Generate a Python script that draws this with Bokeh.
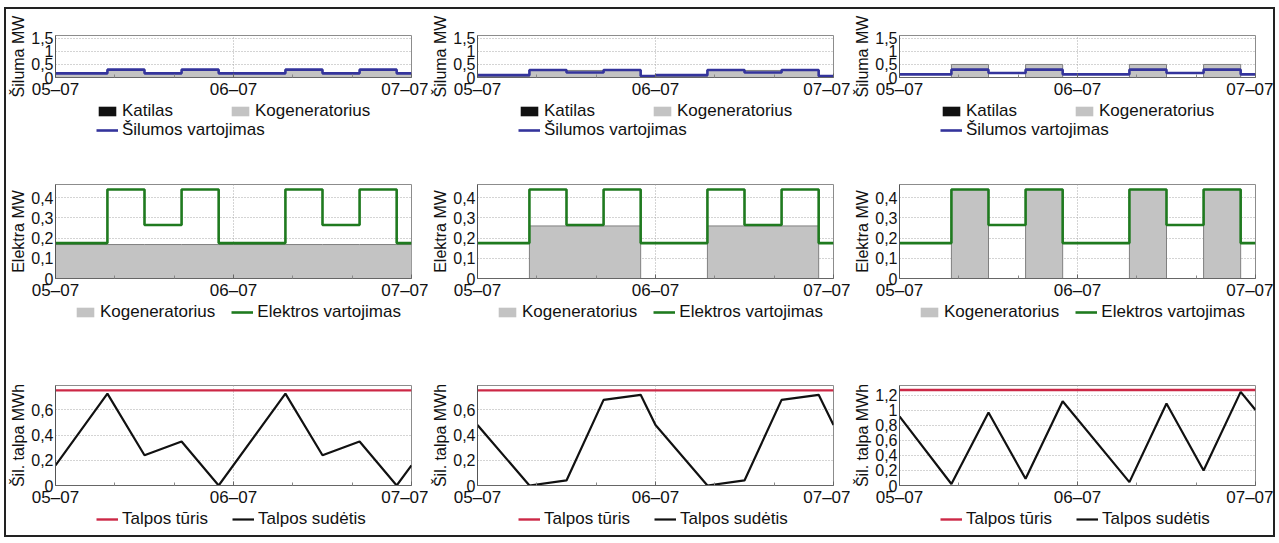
import numpy as np
from bokeh.plotting import figure
from bokeh.models import (Legend, LegendItem, FixedTicker, Range1d,
                          CustomJSTickFormatter)
from bokeh.layouts import row, column
from bokeh.embed import file_html
from bokeh.resources import INLINE

FONT = "Liberation Sans"

# ---------------- data ----------------
# time in hours from 05-07 00:00
hours = [0, 7, 12, 17, 22, 24, 31, 36, 41, 46, 48]
x_ticks = [0, 24, 48]
x_minor_ticks = [8, 16, 32, 40]
x_tick_labels = ["05–07", "06–07", "07–07"]

# row 1: heat, MW (three scenarios a, b, c)
heat_demand_a = [0.16, 0.30, 0.16, 0.30, 0.16, 0.16, 0.30, 0.16, 0.30, 0.16, 0.16]
heat_kog_a    = [0.15, 0.27, 0.15, 0.25, 0.15, 0.15, 0.27, 0.15, 0.25, 0.15, 0.15]
heat_kat_a    = [0.00, 0.00, 0.00, 0.03, 0.00, 0.00, 0.00, 0.00, 0.03, 0.00, 0.00]
heat_demand_b = [0.09, 0.29, 0.19, 0.29, 0.06, 0.09, 0.29, 0.19, 0.29, 0.06, 0.06]
heat_kog_b    = [0.00, 0.27, 0.27, 0.27, 0.00, 0.00, 0.27, 0.27, 0.27, 0.00, 0.00]
heat_kat_b    = [0.03, 0.00, 0.00, 0.00, 0.03, 0.03, 0.00, 0.00, 0.00, 0.03, 0.03]
heat_demand_c = [0.12, 0.30, 0.17, 0.30, 0.12, 0.12, 0.30, 0.17, 0.30, 0.12, 0.12]
heat_kog_c    = [0.00, 0.50, 0.00, 0.50, 0.00, 0.00, 0.50, 0.00, 0.50, 0.00, 0.00]
heat_kat_c    = [0.00, 0.00, 0.00, 0.00, 0.00, 0.00, 0.00, 0.00, 0.00, 0.00, 0.00]

# row 2: electricity, MW
elec_demand = [0.175, 0.44, 0.265, 0.44, 0.175, 0.175, 0.44, 0.265, 0.44, 0.175, 0.175]
elec_kog_a  = [0.168, 0.168, 0.168, 0.168, 0.168, 0.168, 0.168, 0.168, 0.168, 0.168, 0.168]
elec_kog_b  = [0.0, 0.26, 0.26, 0.26, 0.0, 0.0, 0.26, 0.26, 0.26, 0.0, 0.0]
elec_kog_c  = [0.0, 0.44, 0.0, 0.44, 0.0, 0.0, 0.44, 0.0, 0.44, 0.0, 0.0]

# row 3: heat storage, MWh
storage_hours_a = [0, 7, 12, 17, 22, 31, 36, 41, 46, 48]
storage_a       = [0.16, 0.73, 0.24, 0.35, 0.0, 0.73, 0.24, 0.35, 0.0, 0.16]
storage_hours_b = [0, 7, 12, 17, 22, 24, 31, 36, 41, 46, 48]
storage_b       = [0.48, 0.0, 0.04, 0.68, 0.72, 0.48, 0.0, 0.04, 0.68, 0.72, 0.48]
storage_hours_c = [0, 7, 12, 17, 22, 31, 36, 41, 46, 48]
storage_c       = [0.92, 0.02, 0.97, 0.09, 1.12, 0.045, 1.09, 0.20, 1.245, 1.005]
capacity = [0.755, 0.755, 1.27]

heat_yticks = [0, 0.5, 1, 1.5]
elec_yticks = [0, 0.1, 0.2, 0.3, 0.4]
stor_yticks_ab = [0, 0.2, 0.4, 0.6]
stor_yticks_c = [0, 0.2, 0.4, 0.6, 0.8, 1.0, 1.2]

# ---------------- styles ----------------
BLUE = "#34349c"
GREEN = "#1f7a1f"
RED = "#cc2846"
BLACK = "#111111"
GRAY = "#c3c3c3"
GRAY_EDGE = "#808080"

FRAME_W = 356
LEFT = 49
RIGHT_BORDERS = [17, 17, 18]
AXIS_BOTTOM = 22

y_fmt_code = """
var s = tick.toFixed(1).replace('.', ',');
if (s.endsWith(',0')) { s = s.slice(0, -2); }
return s;
"""
x_fmt_code = "const i = tks.indexOf(tick); return i >= 0 ? labs[i] : '';"


def fig_width(col):
    return LEFT + FRAME_W + RIGHT_BORDERS[col]


def base_fig(col, frame_h, top, ymax, yticks, ylabel):
    right = RIGHT_BORDERS[col]
    p = figure(width=fig_width(col), height=top + frame_h + AXIS_BOTTOM,
               min_border_top=top, min_border_bottom=AXIS_BOTTOM,
               min_border_left=LEFT, min_border_right=right,
               x_range=Range1d(0, 48), y_range=Range1d(0, ymax),
               output_backend="svg", toolbar_location=None,
               outline_line_color="#8c8c8c", outline_line_width=1)
    xa = p.xaxis[0]
    xa.ticker = FixedTicker(ticks=x_ticks, minor_ticks=x_minor_ticks)
    xa.formatter = CustomJSTickFormatter(args=dict(tks=x_ticks, labs=x_tick_labels),
                                         code=x_fmt_code)
    xa.major_label_text_font = FONT
    xa.major_label_text_font_size = "17px"
    xa.major_label_text_color = "#111111"
    xa.major_label_standoff = 2
    xa.major_tick_in = 4
    xa.major_tick_out = 0
    xa.minor_tick_in = 3
    xa.minor_tick_out = 0
    xa.axis_line_color = "#666666"
    xa.major_tick_line_color = "#666666"
    xa.minor_tick_line_color = "#888888"

    ya = p.yaxis[0]
    ya.ticker = FixedTicker(ticks=yticks)
    ya.formatter = CustomJSTickFormatter(code=y_fmt_code)
    ya.axis_label = ylabel
    ya.axis_label_text_font = FONT
    ya.axis_label_text_font_size = "16px"
    ya.axis_label_text_font_style = "normal"
    ya.axis_label_text_color = "#111111"
    ya.axis_label_standoff = 1
    ya.major_label_text_font = FONT
    ya.major_label_text_font_size = "16px"
    ya.major_label_text_color = "#111111"
    ya.major_label_standoff = 2
    ya.major_tick_out = 0
    ya.major_tick_in = 0
    ya.minor_tick_line_color = None
    ya.axis_line_color = "#555555"

    p.xgrid.ticker = FixedTicker(ticks=x_ticks)
    for g in (p.xgrid[0], p.ygrid[0]):
        g.grid_line_color = "#a8a8a8"
        g.grid_line_dash = "1 2"
        g.grid_line_width = 1
    return p


def legend_fig(col, height):
    q = figure(width=fig_width(col), height=height,
               x_range=Range1d(0, 1), y_range=Range1d(0, 1),
               x_axis_location=None, y_axis_location=None,
               output_backend="svg", toolbar_location=None, min_border=0,
               outline_line_color=None)
    q.grid.visible = False
    return q


# legend swatches: renderers kept outside the (invisible) legend canvas range
def swatch_area(q, color):
    return q.rect(x=[-5], y=[-5], width=0.1, height=0.1, fill_color=color,
                  line_color=None)


def swatch_line(q, color, width):
    return q.line(x=[-5, -4], y=[-5, -5], line_color=color, line_width=width)


def make_legend(items, loc, spacing):
    return Legend(items=items, location=loc, orientation="horizontal",
                  spacing=spacing, label_text_font=FONT,
                  label_text_font_size="17px", label_text_color="#111111",
                  glyph_width=22, glyph_height=12, label_height=19,
                  label_standoff=4, padding=0, margin=0,
                  border_line_color=None, background_fill_alpha=0)


def heat_panel(col, demand, kog, kat):
    p = base_fig(col, 44, 26, 1.61, heat_yticks, "Šiluma MW")
    kat_a = np.array(kat)
    top = kat_a + np.array(kog)
    p.varea_step(x=hours, y1=np.zeros(len(hours)), y2=kat_a,
                 step_mode="after", fill_color=BLACK)
    p.varea_step(x=hours, y1=kat_a, y2=top, step_mode="after", fill_color=GRAY)
    p.step(x=hours, y=top, mode="after", line_color=GRAY_EDGE, line_width=1)
    p.step(x=hours, y=demand, mode="after", line_color=BLUE, line_width=2.6)

    q = legend_fig(col, 43)
    s_kat = swatch_area(q, BLACK)
    s_kog = swatch_area(q, GRAY)
    s_dem = swatch_line(q, BLUE, 2.6)
    q.add_layout(make_legend([LegendItem(label="Katilas", renderers=[s_kat]),
                              LegendItem(label="Kogeneratorius", renderers=[s_kog])],
                             (90, 23), 56))
    q.add_layout(make_legend([LegendItem(label="Šilumos vartojimas", renderers=[s_dem])],
                             (90, 4), 10))
    return p, q


def elec_panel(col, kog):
    p = base_fig(col, 96, 40, 0.465, elec_yticks, "Elektra MW")
    p.varea_step(x=hours, y1=np.zeros(len(hours)), y2=kog,
                 step_mode="after", fill_color=GRAY)
    p.step(x=hours, y=kog, mode="after", line_color=GRAY_EDGE, line_width=1)
    p.step(x=hours, y=elec_demand, mode="after", line_color=GREEN, line_width=2.6)

    q = legend_fig(col, 43)
    s_kog = swatch_area(q, GRAY)
    s_dem = swatch_line(q, GREEN, 2.6)
    q.add_layout(make_legend([LegendItem(label="Kogeneratorius", renderers=[s_kog]),
                              LegendItem(label="Elektros vartojimas", renderers=[s_dem])],
                             (68, 23), 16))
    return p, q


def storage_panel(col, t, s, cap, ymax, yticks):
    p = base_fig(col, 102, 40, ymax, yticks, "Šil. talpa MWh")
    p.line(x=[hours[0], hours[-1]], y=[cap, cap], line_color=RED, line_width=2.4)
    p.line(x=t, y=s, line_color=BLACK, line_width=2.2)

    q = legend_fig(col, 26)
    s_cap = swatch_line(q, RED, 2.4)
    s_s = swatch_line(q, BLACK, 2.2)
    q.add_layout(make_legend([LegendItem(label="Talpos tūris", renderers=[s_cap]),
                              LegendItem(label="Talpos sudėtis", renderers=[s_s])],
                             (90, 6), 24))
    return p, q


h1, lh1 = heat_panel(0, heat_demand_a, heat_kog_a, heat_kat_a)
h2, lh2 = heat_panel(1, heat_demand_b, heat_kog_b, heat_kat_b)
h3, lh3 = heat_panel(2, heat_demand_c, heat_kog_c, heat_kat_c)
e1, le1 = elec_panel(0, elec_kog_a)
e2, le2 = elec_panel(1, elec_kog_b)
e3, le3 = elec_panel(2, elec_kog_c)
s1, ls1 = storage_panel(0, storage_hours_a, storage_a, capacity[0], 0.794, stor_yticks_ab)
s2, ls2 = storage_panel(1, storage_hours_b, storage_b, capacity[1], 0.794, stor_yticks_ab)
s3, ls3 = storage_panel(2, storage_hours_c, storage_c, capacity[2], 1.33, stor_yticks_c)

layout = column(row(h1, h2, h3), row(lh1, lh2, lh3),
                row(e1, e2, e3), row(le1, le2, le3),
                row(s1, s2, s3), row(ls1, ls2, ls3),
                styles={"border": "2px solid #222222"}, margin=(7, 0, 0, 4))

open("out.html", "w").write(file_html(layout, INLINE))
